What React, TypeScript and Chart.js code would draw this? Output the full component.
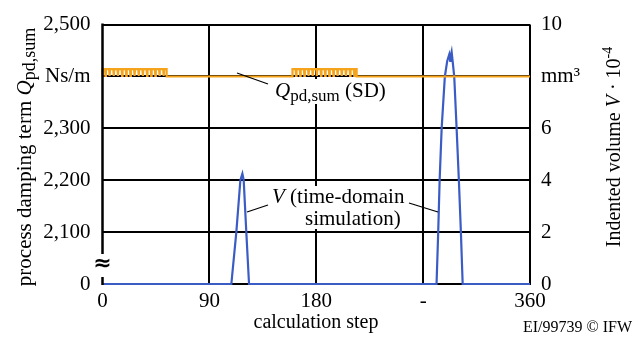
import React, { useEffect, useRef } from "react";
import { Chart, registerables } from "chart.js";
Chart.register(...registerables);

// ---- Data ----
const xTickValues = [0, 90, 180, 270, 360];
const xTickText = ["0", "90", "180", "-", "360"];

const leftTickValues = [2000, 2100, 2200, 2300, 2400, 2500];
const leftTickText = ["0", "2,100", "2,200", "2,300", "Ns/m", "2,500"];

const rightTickValues = [0, 2, 4, 6, 8, 10];
const rightTickText = ["0", "2", "4", "6", "mm³", "10"];

// Indented volume V (time-domain simulation), right axis (x10^-4 mm^3)
const vStep = [0, 108.5, 112.7, 116.1, 117.8, 118.9, 121.1, 123.4,
  281.3, 282.7, 283.9, 285.6, 288.3, 290.3, 292, 292.8, 293.3, 294, 294.6, 296.2, 298.2, 300.1, 301.8, 303.3, 360];
const vValue = [0, 0, 2, 4, 4.25, 4, 2, 0,
  0, 2, 4, 6, 8, 8.6, 8.85, 8.6, 8.8, 8.95, 8.7, 8, 6, 4, 2, 0, 0];

// Process damping term Q_pd,sum (SD), left axis (Ns/m)
const qStep = [
  0, 0,
  2.1, 2.5, 2.9, 5.6, 6, 6.4, 9.1, 9.5, 9.9, 12.6, 13, 13.4, 16.1, 16.5, 16.9,
  19.6, 20, 20.4, 23.1, 23.5, 23.9, 26.6, 27, 27.4, 30.1, 30.5, 30.9, 33.6, 34, 34.4,
  37.1, 37.5, 37.9, 40.6, 41, 41.4, 44.1, 44.5, 44.9, 47.6, 48, 48.4, 51.1, 51.5, 51.9,
  54, 54,
  160, 160,
  162.6, 163, 163.4, 166.1, 166.5, 166.9, 169.6, 170, 170.4, 173.1, 173.5, 173.9,
  176.6, 177, 177.4, 180.1, 180.5, 180.9, 183.6, 184, 184.4, 187.1, 187.5, 187.9,
  190.6, 191, 191.4, 194.1, 194.5, 194.9, 197.6, 198, 198.4, 201.1, 201.5, 201.9,
  204.6, 205, 205.4, 208.1, 208.5, 208.9, 211.6, 212, 212.4,
  214, 214,
  360,
];
const qValue = [
  2400, 2414,
  2414, 2401, 2414, 2414, 2401, 2414, 2414, 2401, 2414, 2414, 2401, 2414, 2414, 2401, 2414,
  2414, 2401, 2414, 2414, 2401, 2414, 2414, 2401, 2414, 2414, 2401, 2414, 2414, 2401, 2414,
  2414, 2401, 2414, 2414, 2401, 2414, 2414, 2401, 2414, 2414, 2401, 2414, 2414, 2401, 2414,
  2414, 2400,
  2400, 2414,
  2414, 2401, 2414, 2414, 2401, 2414, 2414, 2401, 2414, 2414, 2401, 2414,
  2414, 2401, 2414, 2414, 2401, 2414, 2414, 2401, 2414, 2414, 2401, 2414,
  2414, 2401, 2414, 2414, 2401, 2414, 2414, 2401, 2414, 2414, 2401, 2414,
  2414, 2401, 2414, 2414, 2401, 2414, 2414, 2401, 2414,
  2414, 2400,
  2400,
];

const SERIF = "'Liberation Serif', 'Times New Roman', serif";
const BLUE = "#3a5cc4";
const ORANGE = "#f5a31a";

type Run = { text: string; font: string; dy?: number };

function measureRuns(ctx: CanvasRenderingContext2D, runs: Run[]) {
  let total = 0;
  for (const r of runs) {
    ctx.font = r.font;
    total += ctx.measureText(r.text).width;
  }
  return total;
}

function drawRuns(ctx: CanvasRenderingContext2D, runs: Run[], x: number, y: number, align: "left" | "center") {
  const total = measureRuns(ctx, runs);
  let cx = align === "center" ? x - total / 2 : x;
  ctx.textAlign = "left";
  for (const r of runs) {
    ctx.font = r.font;
    ctx.fillText(r.text, cx, y + (r.dy || 0));
    cx += ctx.measureText(r.text).width;
  }
}

function labelBox(ctx: CanvasRenderingContext2D, runs: Run[], x: number, yTop: number, yBottom: number) {
  const w = measureRuns(ctx, runs);
  ctx.save();
  ctx.fillStyle = "#fff";
  ctx.fillRect(x - 2, yTop, w + 4, yBottom - yTop);
  ctx.restore();
}

const decorPlugin = {
  id: "decor",
  afterDraw(chart: any) {
    const ctx: CanvasRenderingContext2D = chart.ctx;
    const { left, top, bottom } = chart.chartArea;
    ctx.save();
    ctx.fillStyle = "#000";
    ctx.strokeStyle = "#000";

    // left axis with break
    ctx.lineWidth = 2.5;
    ctx.beginPath();
    ctx.moveTo(left, top - 1);
    ctx.lineTo(left, bottom - 30);
    ctx.moveTo(left, bottom - 7);
    ctx.lineTo(left, bottom + 1);
    ctx.stroke();
    ctx.font = "bold 22px 'DejaVu Sans'";
    ctx.textAlign = "center";
    ctx.textBaseline = "middle";
    ctx.fillText("≈", left, bottom - 20);

    // axis titles
    ctx.textBaseline = "middle";
    ctx.save();
    ctx.translate(25, 157);
    ctx.rotate(-Math.PI / 2);
    drawRuns(ctx, [
      { text: "process damping term ", font: `21px ${SERIF}` },
      { text: "Q", font: `italic 21px ${SERIF}` },
      { text: "pd,sum", font: `18px ${SERIF}`, dy: 5 },
    ], 0, 0, "center");
    ctx.restore();

    ctx.save();
    ctx.translate(615, 147);
    ctx.rotate(-Math.PI / 2);
    drawRuns(ctx, [
      { text: "Indented volume ", font: `20px ${SERIF}` },
      { text: "V", font: `italic 20px ${SERIF}` },
      { text: " · 10", font: `20px ${SERIF}` },
      { text: "-4", font: `14px ${SERIF}`, dy: -7 },
    ], 0, 0, "center");
    ctx.restore();

    ctx.textBaseline = "alphabetic";
    ctx.font = `20px ${SERIF}`;
    ctx.textAlign = "center";
    ctx.fillText("calculation step", 316, 328);

    ctx.font = `16px ${SERIF}`;
    ctx.textAlign = "right";
    ctx.fillText("EI/99739 © IFW", 632, 332);

    // annotations
    const qRuns: Run[] = [
      { text: "Q", font: `italic 21px ${SERIF}` },
      { text: "pd,sum", font: `17px ${SERIF}`, dy: 4 },
      { text: " (SD)", font: `21px ${SERIF}` },
    ];
    const vRuns1: Run[] = [
      { text: "V", font: `italic 21px ${SERIF}` },
      { text: " (time-domain", font: `21px ${SERIF}` },
    ];
    const vRuns2: Run[] = [{ text: "simulation)", font: `21px ${SERIF}` }];

    labelBox(ctx, qRuns, 275, 79, 104);
    labelBox(ctx, vRuns1, 272, 186, 209);
    labelBox(ctx, vRuns2, 305, 209, 229);

    ctx.lineWidth = 1.3;
    ctx.beginPath();
    ctx.moveTo(237, 73);
    ctx.lineTo(268, 84);
    ctx.moveTo(247, 212);
    ctx.lineTo(268, 205);
    ctx.moveTo(409, 203);
    ctx.lineTo(438, 212);
    ctx.stroke();

    drawRuns(ctx, qRuns, 275, 97, "left");
    drawRuns(ctx, vRuns1, 272, 203, "left");
    drawRuns(ctx, vRuns2, 305, 225, "left");

    ctx.restore();
  },
};

export default function App() {
  const ref = useRef<HTMLCanvasElement | null>(null);
  useEffect(() => {
    if (!ref.current) return;
    const tickFont = { family: SERIF, size: 21 };
    const chart = new Chart(ref.current, {
      type: "line",
      data: {
        datasets: [
          {
            label: "V",
            data: vStep.map((x, i) => ({ x, y: vValue[i] })),
            yAxisID: "y2",
            borderColor: BLUE,
            borderWidth: 2.2,
            pointRadius: 0,
            tension: 0,
            clip: 6,
            order: 2,
          },
          {
            label: "Q",
            data: qStep.map((x, i) => ({ x, y: qValue[i] })),
            yAxisID: "y",
            borderColor: ORANGE,
            borderWidth: 2.2,
            pointRadius: 0,
            tension: 0,
            clip: 6,
            order: 1,
          },
        ],
      },
      options: {
        animation: false,
        responsive: false,
        devicePixelRatio: 1,
        layout: { padding: { top: 20, left: 0, right: 0, bottom: 0 } },
        plugins: { legend: { display: false }, tooltip: { enabled: false } },
        scales: {
          x: {
            type: "linear",
            min: 0,
            max: 360,
            afterBuildTicks: (s: any) => { s.ticks = xTickValues.map((v) => ({ value: v })); },
            afterFit: (s: any) => { s.height = 55; },
            ticks: {
              autoSkip: false,
              maxRotation: 0,
              padding: 5,
              color: "#000",
              font: tickFont,
              callback: (v: any) => { const i = xTickValues.indexOf(Number(v)); return i >= 0 ? xTickText[i] : ""; },
            },
            grid: {
              color: (c: any) => (c.tick && c.tick.value === 0 ? "rgba(0,0,0,0)" : "#000"),
              lineWidth: 2,
              drawTicks: false,
            },
            border: { display: true, color: "#000", width: 2 },
          },
          y: {
            type: "linear",
            position: "left",
            min: 2000,
            max: 2500,
            afterBuildTicks: (s: any) => { s.ticks = leftTickValues.map((v) => ({ value: v })); },
            afterFit: (s: any) => { s.width = 102.5; },
            ticks: {
              padding: 12,
              color: "#000",
              font: tickFont,
              callback: (v: any) => { const i = leftTickValues.indexOf(Number(v)); return i >= 0 ? leftTickText[i] : ""; },
            },
            grid: { color: "#000", lineWidth: 2, drawTicks: false },
            border: { display: false },
          },
          y2: {
            type: "linear",
            position: "right",
            min: 0,
            max: 10,
            afterBuildTicks: (s: any) => { s.ticks = rightTickValues.map((v) => ({ value: v })); },
            afterFit: (s: any) => { s.width = 108; },
            ticks: {
              padding: 11,
              color: "#000",
              font: tickFont,
              callback: (v: any) => { const i = rightTickValues.indexOf(Number(v)); return i >= 0 ? rightTickText[i] : ""; },
            },
            grid: { display: false, drawTicks: false },
            border: { display: false },
          },
        },
      },
      plugins: [decorPlugin],
    } as any);
    return () => chart.destroy();
  }, []);
  return (
    <div style={{ position: "absolute", left: 0, top: 0, width: 638, height: 339, background: "#fff" }}>
      <canvas ref={ref} width={638} height={339} style={{ width: 638, height: 339, display: "block" }} />
    </div>
  );
}
